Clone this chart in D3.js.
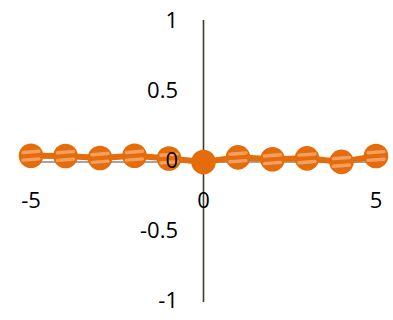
<!DOCTYPE html>
<html><head><meta charset="utf-8">
<script src="https://cdn.jsdelivr.net/npm/d3@7/dist/d3.min.js"></script>
<style>body{margin:0;background:#fff}svg{display:block}text{font-family:"Open Sans",sans-serif;fill:#000}</style>
</head><body><svg id="c" width="393" height="320"></svg>
<script>
const xValues = [-5,-4,-3,-2,-1,0,1,2,3,4,5];
const yValues = [0.045,0.043,0.029,0.045,0.025,0,0.033,0.02,0.026,0.001,0.043];
const xTicks = [-5,0,5];
const yTicks = [1,0.5,0,-0.5,-1];
const yTickLabels = ["1","0.5","0","-0.5","-1"];

const svg = d3.select("#c");
const x = d3.scaleLinear().domain([-5,5]).range([31,376]);
const y = d3.scaleLinear().domain([-1,1]).range([302,22]);

svg.append("line").attr("x1",x(-5)).attr("x2",x(5)).attr("y1",y(0)).attr("y2",y(0))
  .attr("stroke","#868686").attr("stroke-width",1.5);
svg.append("line").attr("x1",x(0)).attr("x2",x(0)).attr("y1",y(1)-2).attr("y2",y(-1))
  .attr("stroke","#403b2b").attr("stroke-width",1.6);

const pts = xValues.map((v,i)=>({x:v,y:yValues[i]}));
svg.append("path").datum(pts)
  .attr("d", d3.line().x(d=>x(d.x)).y(d=>y(d.y)))
  .attr("fill","none").attr("stroke","#e46c0a").attr("stroke-width",6);

svg.selectAll("circle.m").data(pts).enter().append("circle")
  .attr("cx",d=>x(d.x)).attr("cy",d=>y(d.y)).attr("r",12.3).attr("fill","#e46c0a");

const stripes = pts.filter(d=>d.x!==0);
[-3.8,3.8].forEach(off=>{
  svg.selectAll(null).data(stripes).enter().append("line")
    .attr("x1",d=>x(d.x)-8).attr("x2",d=>x(d.x)+8)
    .attr("y1",d=>y(d.y)+off+0.6).attr("y2",d=>y(d.y)+off-0.6)
    .attr("stroke","#f5a062").attr("stroke-width",3.4).attr("stroke-linecap","round");
});

svg.selectAll("text.yl").data(yTicks).enter().append("text")
  .attr("x",178).attr("y",d=>y(d)-1.5).attr("dy","0.35em").attr("text-anchor","end")
  .attr("font-size",22).text((d,i)=>yTickLabels[i]);
svg.selectAll("text.xl").data(xTicks).enter().append("text")
  .attr("x",d=>x(d)).attr("y",y(0)+38).attr("dy","0.35em").attr("text-anchor","middle")
  .attr("font-size",22).text(d=>String(d));
</script></body></html>
